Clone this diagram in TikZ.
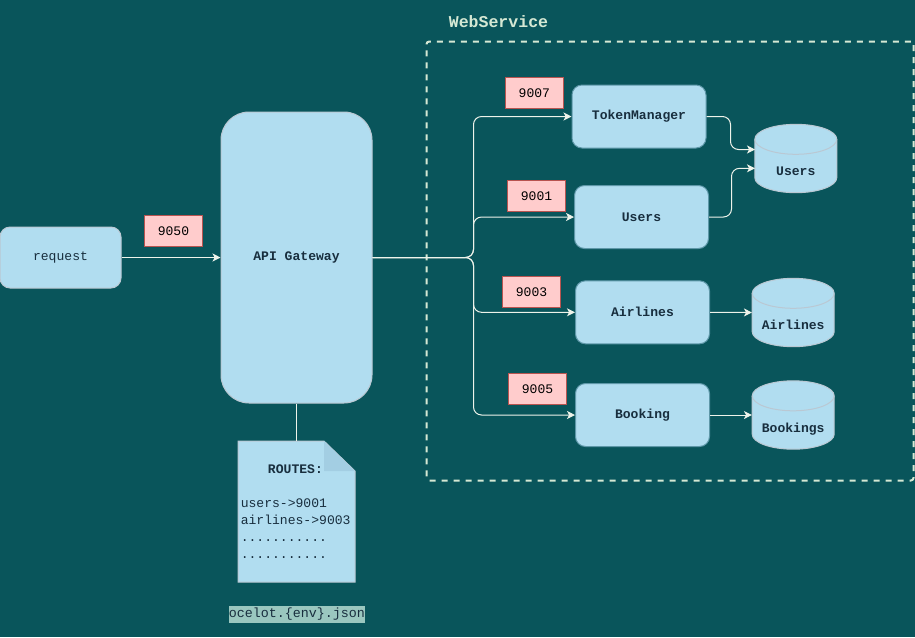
\documentclass[tikz,border=0pt]{standalone}
\usepackage{fontspec}
\setmonofont{Liberation Mono}
\usetikzlibrary{arrows.meta}
\definecolor{bgc}{HTML}{09555B}
\definecolor{nodefill}{HTML}{B1DDF0}
\definecolor{greyline}{HTML}{BAC8D3}
\definecolor{tealline}{HTML}{5E97A8}
\definecolor{inkc}{HTML}{182E3E}
\definecolor{edgec}{HTML}{EEF3EA}
\definecolor{framec}{HTML}{D5E8D4}
\definecolor{portfill}{HTML}{FFCCCC}
\definecolor{portline}{HTML}{B85450}
\definecolor{foldc}{HTML}{A3CEE3}
\definecolor{hilite}{HTML}{9AC7BF}
\tikzset{
  x=0.75pt,y=-0.75pt,
  mono/.style={font=\ttfamily\fontsize{9.8pt}{12.75pt}\selectfont,text=inkc},
  monob/.style={font=\ttfamily\bfseries\fontsize{9.8pt}{12.75pt}\selectfont,text=inkc},
  box/.style={draw=#1,fill=nodefill,line width=0.75pt,rounded corners=7.5pt,inner sep=0pt,anchor=center},
  service/.style={box=tealline,monob,minimum width=100.5pt,minimum height=47.25pt},
  portlabel/.style={draw=portline,fill=portfill,line width=0.75pt,inner sep=0pt,
     minimum width=43.5pt,minimum height=23.25pt,font=\ttfamily\fontsize{9.8pt}{12pt}\selectfont,text=black},
  storebody/.style={draw=greyline,fill=nodefill,line width=0.75pt},
  storeedge/.style={draw=greyline,line width=0.75pt},
  store/.style={inner sep=0pt,minimum width=61.5pt,minimum height=51.3pt,monob},
  link/.style={draw=edgec,line width=0.75pt,-{Stealth[length=6pt,width=6pt,inset=1.6pt]},rounded corners=6pt},
  plain link/.style={draw=edgec,line width=0.75pt,rounded corners=6pt},
}
% #1 name, #2 centre x, #3 centre y, #4 label
\newcommand{\storenode}[4]{%
  \path[storebody] (#2-41,#3-19.2)
     arc[start angle=180,end angle=0,x radius=30.75pt,y radius=11.25pt]
     -- (#2+41,#3+19.2)
     arc[start angle=0,end angle=-180,x radius=30.75pt,y radius=11.25pt] -- cycle;
  \path[storeedge] (#2-41,#3-19.2)
     arc[start angle=180,end angle=360,x radius=30.75pt,y radius=11.25pt];
  \node[store] (#1) at (#2,#3) {\smash{\makebox[0pt]{\raisebox{-12.75pt}{#4}}}};
}
\begin{document}
\begin{tikzpicture}
\useasboundingbox[fill=bgc] (0,0) rectangle (915,637);

% WebService frame
\node[draw=framec,line width=1.5pt,dash pattern=on 4.5pt off 4.5pt,rounded corners=2pt,
      minimum width=365.25pt,minimum height=329.25pt,inner sep=0pt] (frame) at (670,261) {};
\node[font=\ttfamily\bfseries\fontsize{12.4pt}{14pt}\selectfont,text=framec] (frametitle) at (498.5,22) {WebService};

% main nodes
\node[box=greyline,mono,minimum width=90.75pt,minimum height=45.75pt] (request) at (60.5,257.5) {\raisebox{-0.5pt}{request}};
\node[box=greyline,monob,rounded corners=21pt,minimum width=113.25pt,minimum height=218.25pt] (api) at (296.5,257.5) {API Gateway};

% services
\node[service] (tm) at (639,116.5) {TokenManager};
\node[service] (users) at (641.5,217) {Users};
\node[service] (airlines) at (642.5,312.3) {Airlines};
\node[service] (booking) at (642.5,415) {Booking};

% stores
\storenode{dbusers}{795.8}{158.5}{Users}
\storenode{dbairlines}{793.2}{312.5}{Airlines}
\storenode{dbbookings}{793.2}{415}{Bookings}

% port labels
\node[portlabel] (p9050) at (173.5,231) {9050};
\node[portlabel] (p9007) at (534.4,93) {9007};
\node[portlabel] (p9001) at (536.5,195.7) {9001};
\node[portlabel] (p9003) at (531.5,291.8) {9003};
\node[portlabel] (p9005) at (537.5,389) {9005};

% routes document
\fill[nodefill,draw=greyline,line width=0.75pt] (238,441) -- (324,441) -- (355,471) -- (355,582) -- (238,582) -- cycle;
\fill[foldc] (324,441) -- (355,471) -- (324,471) -- cycle;
\node[mono,inner sep=0pt,minimum width=87.75pt,minimum height=105.75pt] (doc) at (296.5,511.5) {};
\node[mono,anchor=north west,inner sep=0pt,text width=85pt,align=left,
      font=\ttfamily\fontsize{9.8pt}{12.75pt}\selectfont] (doctext) at (240.5,464.5)
  {\makebox[82pt][c]{\textbf{ROUTES:}}\\[12.75pt]users->9001\\airlines->9003\\...........\\...........};
\node[mono,fill=hilite,inner sep=0pt,minimum width=102pt,minimum height=12.75pt,
      font=\ttfamily\fontsize{10pt}{12pt}\selectfont] (doccaption) at (297,614.5) {\raisebox{-0.75pt}{ocelot.\{env\}.json}};

% connectors
\coordinate (bus) at (473.5,257.5);
\coordinate (tmbend) at (730.5,116.5);
\coordinate (usersbend) at (731.5,217);
\coordinate (tmin) at (755,149.5);
\coordinate (usersin) at (755,168.3);

\draw[link] (request.east) -- (api.west);
\draw[plain link] (api.south) -- (doc.north);
\draw[link] (api.east) -- (bus) |- (tm.west);
\draw[link] (api.east) -- (bus) |- (users.west);
\draw[link] (api.east) -- (bus) |- (airlines.west);
\draw[link] (api.east) -- (bus) |- (booking.west);
\draw[link] (tm.east) -- (tmbend) |- (tmin);
\draw[link] (users.east) -- (usersbend) |- (usersin);
\draw[link] (airlines.east) -- (dbairlines.west);
\draw[link] (booking.east) -- (dbbookings.west);
\end{tikzpicture}
\end{document}
